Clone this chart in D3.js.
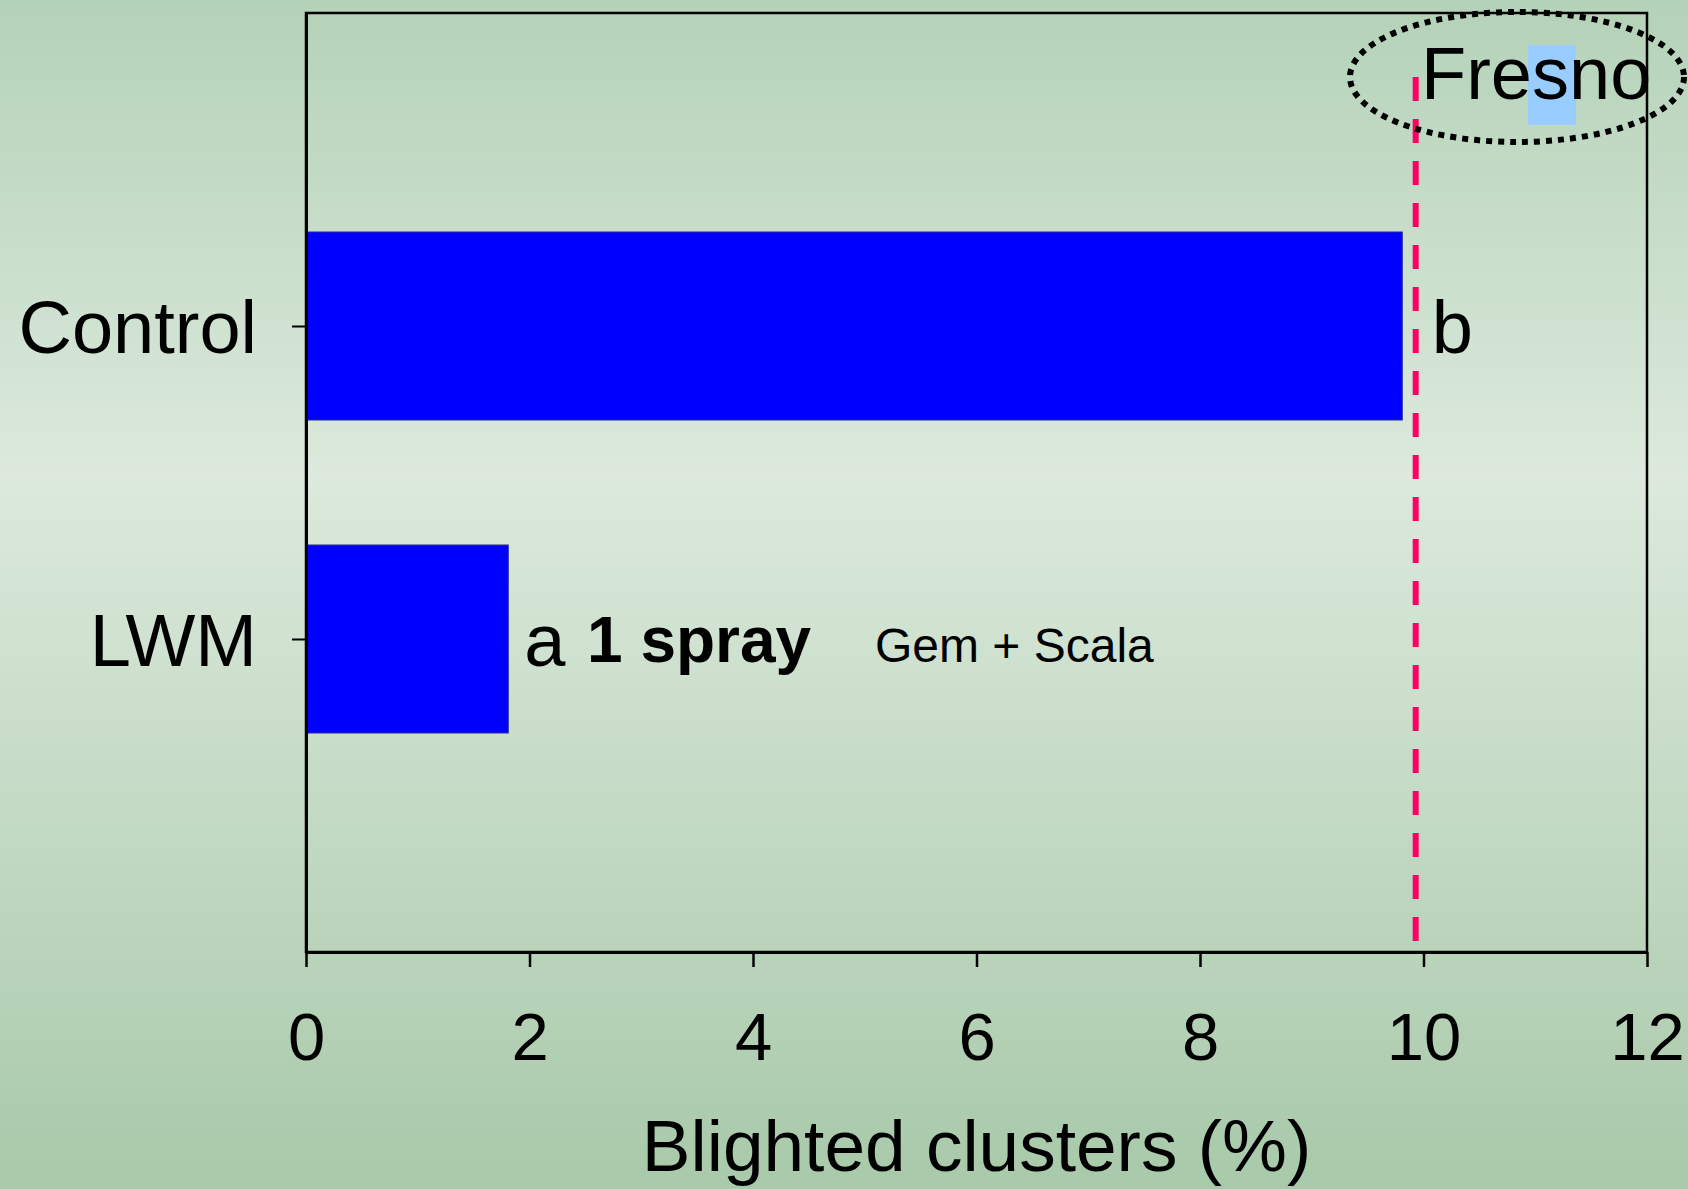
<!DOCTYPE html>
<html lang="en">
<head>
    <meta charset="UTF-8">
    <title>Blighted clusters - Fresno</title>
    <script src="https://cdn.jsdelivr.net/npm/d3@7/dist/d3.min.js"></script>
    <style>
        body { margin: 0; overflow: hidden; }
        svg { display: block; font-family: "Liberation Sans", Arial, sans-serif; }
    </style>
</head>
<body>
<script>
    // canvas size
    const width = 1688;
    const height = 1189;

    // data
    const categories = ['Control', 'LWM'];
    const values = [9.81, 1.81];
    const letters = ['b', 'a'];
    const xTicks = [0, 2, 4, 6, 8, 10, 12];
    const refValue = 9.93;   // dashed reference line
    const siteName = 'Fresno';

    // plot box
    const plotLeft = 306, plotRight = 1647, plotTop = 13, plotBottom = 952;

    let svg = d3.select('body')
        .append('svg')
        .attr('width', width)
        .attr('height', height);

    // background gradient
    let defs = svg.append('defs');
    let grad = defs.append('linearGradient')
        .attr('id', 'bg')
        .attr('x1', 0).attr('y1', 0).attr('x2', 0).attr('y2', 1);
    grad.append('stop').attr('offset', '0%').attr('stop-color', '#b4d2b8');
    grad.append('stop').attr('offset', '40%').attr('stop-color', '#dce9dc');
    grad.append('stop').attr('offset', '100%').attr('stop-color', '#a8c9aa');

    svg.append('rect')
        .attr('width', width)
        .attr('height', height)
        .attr('fill', 'url(#bg)');

    // scales
    let x = d3.scaleLinear().domain([0, 12]).range([plotLeft, plotRight]);
    let y = d3.scalePoint().domain(categories).range([plotTop, plotBottom]).padding(1);
    const barH = 188;

    // plot border
    svg.append('rect')
        .attr('x', plotLeft).attr('y', plotTop)
        .attr('width', plotRight - plotLeft).attr('height', plotBottom - plotTop)
        .attr('fill', 'none')
        .attr('stroke', '#000')
        .attr('stroke-width', 2.5);

    // bars
    svg.selectAll('rect.bar')
        .data(values)
        .enter()
        .append('rect')
        .attr('class', 'bar')
        .attr('x', x(0))
        .attr('y', (d, i) => y(categories[i]) - barH / 2)
        .attr('width', d => x(d) - x(0))
        .attr('height', barH)
        .attr('fill', '#0000ff')
        .attr('stroke', '#2a2a8a')
        .attr('stroke-width', 1);

    // x axis
    let xAxis = svg.append('g')
        .attr('transform', `translate(0, ${plotBottom})`)
        .call(d3.axisBottom(x).tickValues(xTicks).tickSize(15).tickPadding(45).tickSizeOuter(0));
    xAxis.select('.domain').attr('stroke-width', 3);
    xAxis.selectAll('.tick line').attr('stroke-width', 2.5);
    xAxis.selectAll('text')
        .attr('font-size', 67)
        .attr('font-family', '"Liberation Sans", Arial, sans-serif')
        .attr('fill', '#000');

    // y axis
    let yAxis = svg.append('g')
        .attr('transform', `translate(${plotLeft}, 0)`)
        .call(d3.axisLeft(y).tickSize(14).tickPadding(35).tickSizeOuter(0));
    yAxis.select('.domain').attr('stroke-width', 3);
    yAxis.selectAll('.tick line').attr('stroke-width', 2);
    yAxis.selectAll('text')
        .attr('font-size', 74)
        .attr('dy', '0.36em')
        .attr('font-family', '"Liberation Sans", Arial, sans-serif')
        .attr('fill', '#000');

    // x axis title
    svg.append('text')
        .attr('x', (plotLeft + plotRight) / 2)
        .attr('y', 1171)
        .attr('text-anchor', 'middle')
        .attr('font-size', 73)
        .text('Blighted clusters (%)');

    // dashed reference line
    svg.append('line')
        .attr('x1', x(refValue)).attr('x2', x(refValue))
        .attr('y1', 77).attr('y2', 941)
        .attr('stroke', '#ff0066')
        .attr('stroke-width', 6)
        .attr('stroke-dasharray', '24,18');

    // significance letters
    svg.selectAll('text.letter')
        .data(values)
        .enter()
        .append('text')
        .attr('class', 'letter')
        .attr('x', d => {
            let end = x(d);
            if (Math.abs(x(refValue) - end) < 30) end = x(refValue);
            return end + 16;
        })
        .attr('y', (d, i) => y(categories[i]))
        .attr('dy', '0.36em')
        .attr('font-size', 74)
        .text((d, i) => letters[i]);

    // LWM notes
    let lwmY = y('LWM') + 23;
    svg.append('text')
        .attr('x', 587).attr('y', lwmY)
        .attr('font-size', 64)
        .attr('font-weight', 'bold')
        .text('1 spray');
    svg.append('text')
        .attr('x', 875).attr('y', lwmY)
        .attr('font-size', 48)
        .text('Gem + Scala');

    // site label with dotted ellipse
    svg.append('rect')
        .attr('x', 1528).attr('y', 45)
        .attr('width', 48).attr('height', 80)
        .attr('fill', '#99ccff');
    svg.append('text')
        .attr('x', 1421).attr('y', 99)
        .attr('font-size', 74)
        .text(siteName);
    svg.append('ellipse')
        .attr('cx', 1517).attr('cy', 77)
        .attr('rx', 167).attr('ry', 65)
        .attr('fill', 'none')
        .attr('stroke', '#000')
        .attr('stroke-width', 6)
        .attr('stroke-dasharray', '6,6');
</script>
</body>
</html>
